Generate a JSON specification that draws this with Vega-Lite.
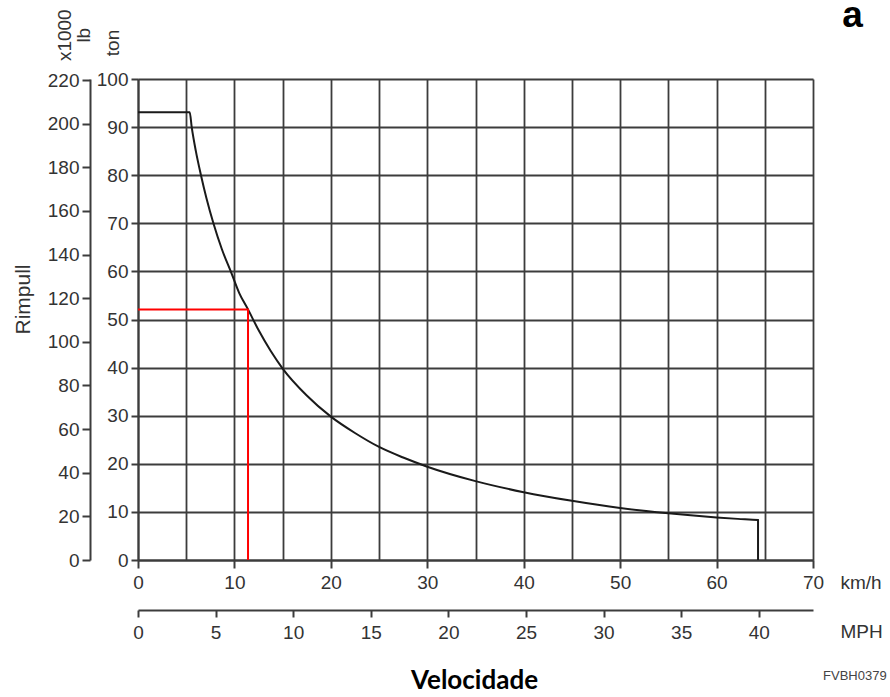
{
  "$schema": "https://vega.github.io/schema/vega-lite/v6.json",
  "width": 675,
  "height": 481,
  "autosize": {"type": "none"},
  "padding": {"left": 138, "top": 79, "right": 77, "bottom": 137},
  "background": "white",
  "config": {
    "view": {"stroke": null},
    "font": "Liberation Sans",
    "axis": {
      "labelFont": "Liberation Sans",
      "labelFontSize": 19,
      "labelColor": "#333",
      "titleFont": "Liberation Sans",
      "titleFontSize": 19,
      "titleFontWeight": "normal",
      "titleColor": "#333",
      "domainColor": "#3c3c3c",
      "domainWidth": 2,
      "tickColor": "#3c3c3c",
      "tickWidth": 2,
      "gridColor": "#3c3c3c",
      "gridWidth": 1.8,
      "gridOpacity": 1,
      "labelFlush": false,
      "labelOverlap": false
    }
  },
  "datasets": {
    "curve": [
      {"i": 0, "kmh": 0, "ton": 93.1},
      {"i": 1, "kmh": 5.36, "ton": 93.1},
      {"i": 2, "kmh": 5.57, "ton": 90},
      {"i": 3, "kmh": 6.0, "ton": 85.0},
      {"i": 4, "kmh": 6.53, "ton": 80},
      {"i": 5, "kmh": 7.1, "ton": 75.2},
      {"i": 6, "kmh": 7.82, "ton": 70},
      {"i": 7, "kmh": 8.7, "ton": 64.6},
      {"i": 8, "kmh": 9.7, "ton": 59.6},
      {"i": 9, "kmh": 10.5, "ton": 55.5},
      {"i": 10, "kmh": 11.41, "ton": 52.1},
      {"i": 11, "kmh": 12.5, "ton": 47.8},
      {"i": 12, "kmh": 13.75, "ton": 43.5},
      {"i": 13, "kmh": 15, "ton": 39.8},
      {"i": 14, "kmh": 17.5, "ton": 34.2},
      {"i": 15, "kmh": 20, "ton": 29.8},
      {"i": 16, "kmh": 22.5, "ton": 26.4},
      {"i": 17, "kmh": 25, "ton": 23.5},
      {"i": 18, "kmh": 27.5, "ton": 21.3},
      {"i": 19, "kmh": 30, "ton": 19.4},
      {"i": 20, "kmh": 35, "ton": 16.4},
      {"i": 21, "kmh": 40, "ton": 14.1},
      {"i": 22, "kmh": 45, "ton": 12.3},
      {"i": 23, "kmh": 50, "ton": 10.8},
      {"i": 24, "kmh": 55, "ton": 9.7},
      {"i": 25, "kmh": 60, "ton": 8.85},
      {"i": 26, "kmh": 62.2, "ton": 8.55},
      {"i": 27, "kmh": 64.3, "ton": 8.3},
      {"i": 28, "kmh": 64.3, "ton": 0}
    ],
    "marker": [
      {"i": 0, "kmh": 0, "ton": 52.1},
      {"i": 1, "kmh": 11.41, "ton": 52.1},
      {"i": 2, "kmh": 11.41, "ton": 0}
    ]
  },
  "resolve": {"axis": {"x": "independent", "y": "independent"}},
  "layer": [
    {
      "data": {"name": "curve"},
      "mark": {"type": "line", "color": "#1a1a1a", "strokeWidth": 2, "interpolate": "monotone"},
      "encoding": {
        "x": {
          "field": "kmh",
          "type": "quantitative",
          "scale": {"domain": [0, 70], "nice": false, "zero": false},
          "axis": {
            "orient": "bottom",
            "values": [0, 5, 10, 15, 20, 25, 30, 35, 40, 45, 50, 55, 60, 65, 70],
            "grid": true,
            "tickSize": 8,
            "tickOpacity": {"condition": {"test": "datum.value % 10 === 0", "value": 1}, "value": 0},
            "labelExpr": "datum.value % 10 === 0 ? datum.label : ''",
            "labelPadding": 5,
            "title": "km/h",
            "titleX": 702,
            "titleY": 22,
            "titleAlign": "left",
            "titleBaseline": "middle",
            "titleAngle": 0
          }
        },
        "y": {
          "field": "ton",
          "type": "quantitative",
          "scale": {"domain": [0, 100], "nice": false, "zero": false},
          "axis": {
            "orient": "left",
            "values": [0, 10, 20, 30, 40, 50, 60, 70, 80, 90, 100],
            "grid": true,
            "tickSize": 7,
            "labelPadding": 3,
            "title": "ton",
            "titleX": -25.5,
            "titleY": -36.5,
            "titleAngle": 270,
            "titleAlign": "center",
            "titleBaseline": "middle"
          }
        },
        "order": {"field": "i", "type": "quantitative"}
      }
    },
    {
      "data": {"name": "marker"},
      "mark": {"type": "line", "color": "#ff0000", "strokeWidth": 2, "interpolate": "linear"},
      "encoding": {
        "x": {
          "field": "kmh",
          "type": "quantitative",
          "scale": {"domain": [0, 70], "nice": false, "zero": false},
          "axis": {
            "orient": "bottom",
            "offset": 50,
            "values": [0, 8.04672, 16.09344, 24.14016, 32.18688, 40.2336, 48.28032, 56.32704, 64.37376],
            "labelExpr": "format(datum.value / 1.609344, '.0f')",
            "grid": false,
            "tickSize": 7,
            "labelPadding": 6,
            "title": "MPH",
            "titleX": 702,
            "titleY": 21,
            "titleAlign": "left",
            "titleBaseline": "middle",
            "titleAngle": 0
          }
        },
        "y": {
          "field": "ton",
          "type": "quantitative",
          "scale": {"domain": [0, 100], "nice": false, "zero": false},
          "axis": {
            "orient": "left",
            "offset": 48,
            "values": [0, 9.0718, 18.1437, 27.2155, 36.2874, 45.3592, 54.4311, 63.5029, 72.5748, 81.6466, 90.7185, 99.7903],
            "labelExpr": "format(datum.value * 2.20462, '.0f')",
            "grid": false,
            "tickSize": 8,
            "labelPadding": 3,
            "title": "Rimpull",
            "titleFontSize": 21,
            "titleX": -67,
            "titleY": 220,
            "titleAngle": 270,
            "titleAlign": "center",
            "titleBaseline": "middle"
          }
        },
        "order": {"field": "i", "type": "quantitative"}
      }
    },
    {
      "data": {"values": [{}]},
      "mark": {"type": "text", "text": ["x1000", "lb"], "angle": 270, "fontSize": 19, "lineHeight": 19, "color": "#333", "align": "center", "baseline": "middle", "font": "Liberation Sans"},
      "encoding": {
        "x": {"datum": -7.55, "type": "quantitative", "axis": null},
        "y": {"datum": 109.1, "type": "quantitative", "axis": null}
      }
    },
    {
      "data": {"values": [{}]},
      "mark": {"type": "text", "text": "a", "fontSize": 37, "fontWeight": "bold", "color": "#000", "align": "center", "baseline": "alphabetic", "font": "Liberation Sans"},
      "encoding": {
        "x": {"datum": 74.1, "type": "quantitative", "axis": null},
        "y": {"datum": 110.9, "type": "quantitative", "axis": null}
      }
    },
    {
      "data": {"values": [{}]},
      "mark": {"type": "text", "text": "Velocidade", "fontSize": 26, "fontWeight": "bold", "color": "#000", "align": "center", "baseline": "alphabetic", "font": "Lato"},
      "encoding": {
        "x": {"datum": 34.9, "type": "quantitative", "axis": null},
        "y": {"datum": -26.9, "type": "quantitative", "axis": null}
      }
    },
    {
      "data": {"values": [{}]},
      "mark": {"type": "text", "text": "FVBH0379", "fontSize": 13, "color": "#444", "align": "right", "baseline": "alphabetic", "font": "Liberation Sans"},
      "encoding": {
        "x": {"datum": 77.64, "type": "quantitative", "axis": null},
        "y": {"datum": -24.95, "type": "quantitative", "axis": null}
      }
    }
  ]
}
